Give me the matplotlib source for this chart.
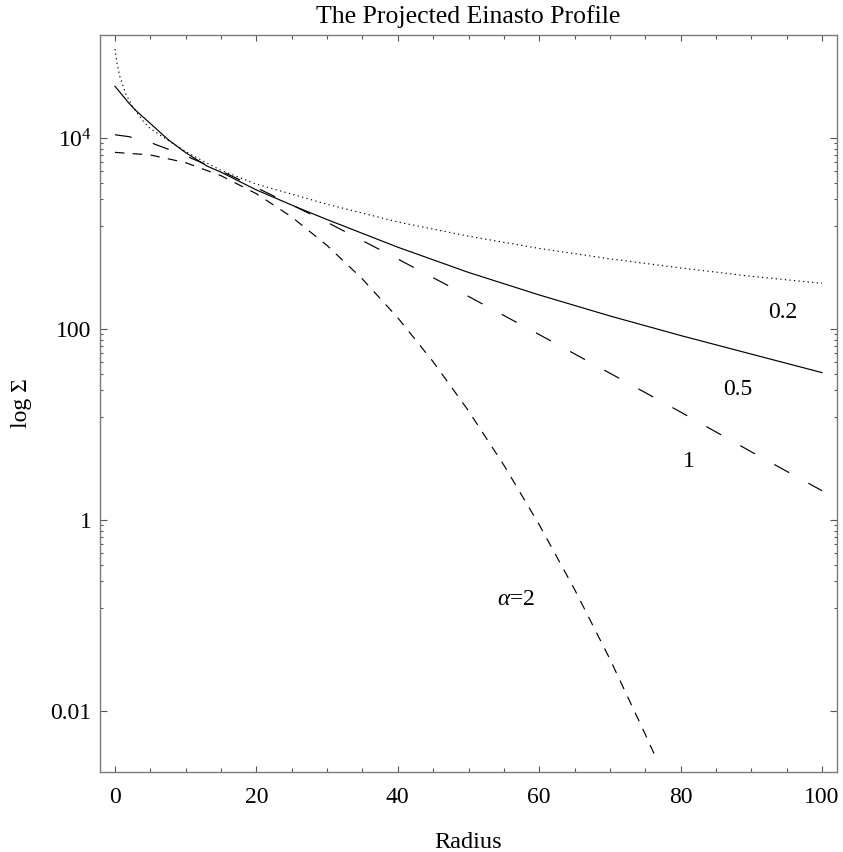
import matplotlib
matplotlib.use("Agg")
import matplotlib.pyplot as plt
from matplotlib.ticker import FixedLocator, FixedFormatter, NullFormatter

plt.rcParams['font.family'] = ['Liberation Serif', 'DejaVu Serif']
plt.rcParams['mathtext.fontset'] = 'custom'
plt.rcParams['mathtext.rm'] = 'Liberation Serif'
plt.rcParams['mathtext.it'] = 'Liberation Serif:italic'
plt.rcParams['lines.scale_dashes'] = False

# ---- data ----
x_a02 = [0, 0.3, 0.7, 1.5, 2.5, 4, 5, 7.5, 10, 13, 15, 20, 26, 30, 40, 50, 60, 70, 80, 90, 100]
y_a02 = [86100, 60300, 44200, 29500, 21400, 15100, 12600, 9550, 7240, 5500, 4620, 3310, 2480,
         2040, 1330, 944, 703, 547, 439, 359, 303]

x_a05 = [0, 1, 2, 3, 5, 7.5, 10, 13, 15, 20, 26, 30, 40, 50, 60, 70, 80, 90, 100]
y_a05 = [35100, 28500, 23200, 19400, 14300, 9710, 7080, 5130, 4420, 2880, 1860, 1410, 724,
         394, 229, 138, 86.1, 55.0, 35.2]

x_a1 = [0, 2, 5, 10, 15, 20, 25, 30, 40, 50, 60, 70, 80, 90, 100]
y_a1 = [10900, 10400, 9040, 6560, 4540, 3050, 2010, 1320, 545, 221, 88.1, 34.7, 13.6, 5.21, 2.04]

x_a2 = [0, 5, 10, 15, 20, 25, 30, 35, 40, 45, 50, 55, 60, 65, 70, 75, 76.5]
y_a2 = [7130, 6700, 5560, 4060, 2630, 1500, 755, 336, 132, 45.7, 14.0, 3.78, 0.90, 0.189,
        0.0352, 0.00575, 0.00327]

curve_labels = ["0.2", "0.5", "1", r"$\alpha$=2"]
label_x = [94.4, 88.05, 81.2, 56.7]
label_y = [131, 20.5, 3.64, 0.130]

xticks_major = [0, 20, 40, 60, 80, 100]
yticks_major = [0.01, 1, 100, 1e4]
ytick_labels = ["0.01", "1", "100", r"$10^{4}$"]

# ---- figure ----
fig = plt.figure(figsize=(8.43, 8.52), dpi=100)
ax = fig.add_axes([100/843, 1 - 772/852, 737/843, 737/852])
ax.set_yscale('log')

lw = 0.85
ax.plot(x_a02, y_a02, color='black', lw=lw, linestyle=(0, (0.9, 2.4)))
ax.plot(x_a05, y_a05, color='black', lw=lw, linestyle='-')
ax.plot(x_a1, y_a1, color='black', lw=lw, linestyle=(0, (12.2, 15.8)))
ax.plot(x_a2, y_a2, color='black', lw=lw, linestyle=(0, (6.8, 6.0)))

for t, tx, ty in zip(curve_labels, label_x, label_y):
    ax.text(tx, ty, t, ha='center', va='baseline', fontsize=17)

ax.set_xlim(-2.12, 102.12)
ax.set_ylim(10**-2.636, 10**5.082)

ax.xaxis.set_major_locator(FixedLocator(xticks_major))
ax.xaxis.set_minor_locator(FixedLocator([v for v in range(0, 101, 5) if v % 20 != 0]))

ax.yaxis.set_major_locator(FixedLocator(yticks_major))
ax.yaxis.set_major_formatter(FixedFormatter(ytick_labels))
minors = []
for a, b in zip(yticks_major[:-1], yticks_major[1:]):
    minors += [a + (b - a) * k / 9 for k in range(1, 9)]
ax.yaxis.set_minor_locator(FixedLocator(minors))
ax.yaxis.set_minor_formatter(NullFormatter())

spine_col = '#7a7a7a'
for s in ax.spines.values():
    s.set_color(spine_col)
    s.set_linewidth(1.0)

ax.tick_params(which='both', direction='in', top=True, right=True, colors='#555555',
               labelcolor='black', labelsize=17)
ax.tick_params(axis='x', which='major', length=4.5, width=0.8, pad=10.5)
ax.tick_params(axis='x', which='minor', length=2.7, width=0.8)
ax.tick_params(axis='y', which='major', length=4.8, width=0.8, pad=6)
ax.tick_params(axis='y', which='minor', length=2.2, width=0.8)

ax.set_title("The Projected Einasto Profile", fontsize=18.5, pad=9)
ax.set_xlabel("Radius", fontsize=17.5)
ax.xaxis.set_label_coords(0.5, -(842 - 772) / 737)
ax.xaxis.label.set_va('center')
ax.set_ylabel("log Σ", fontsize=17, va='center')
ax.yaxis.set_label_coords((22 - 100) / 737, 0.5)

fig.savefig("out.png", dpi=100)
